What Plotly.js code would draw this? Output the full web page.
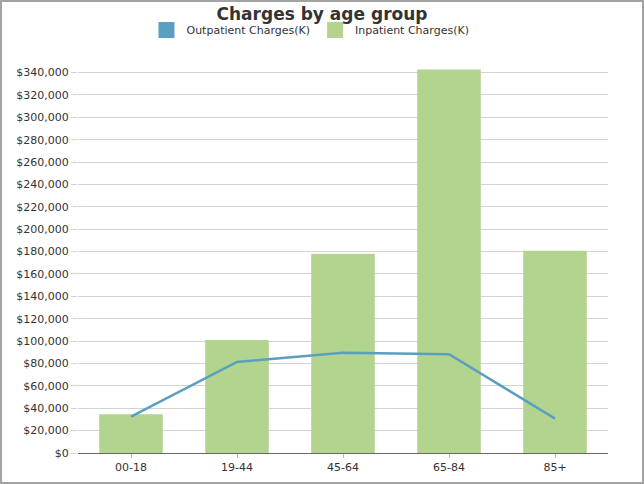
<!DOCTYPE html>
<html>
<head>
<meta charset="utf-8">
<script src="https://cdn.plot.ly/plotly-3.0.1.min.js"></script>
<style>
html,body{margin:0;padding:0;background:#fff;}
#frame{width:640px;height:480px;border:2px solid #a3a3a3;}
#chart{width:640px;height:480px;}
</style>
</head>
<body>
<div id="frame"><div id="chart"></div></div>
<script>
const categories = ["00-18", "19-44", "45-64", "65-84", "85+"];
const inpatient = [34600, 101000, 178000, 342700, 180800];
const outpatient = [32500, 81400, 89600, 88300, 30700];
const tickValues = [0,20000,40000,60000,80000,100000,120000,140000,160000,180000,200000,220000,240000,260000,280000,300000,320000,340000];
const tickLabels = tickValues.map(v => "$" + v.toLocaleString("en-US"));

const blue = "#5b9fc0";
const green = "#b2d48f";

const traces = [
  {type:"bar", x:categories, y:inpatient, name:"Inpatient Charges(K)",
   marker:{color:green}, showlegend:false},
  {type:"scatter", mode:"lines", x:categories, y:outpatient, name:"Outpatient Charges(K)",
   line:{color:blue, width:2.5}, showlegend:false},
  // legend-only entries (square swatches as in the reference)
  {type:"scatter", mode:"markers", x:categories, y:categories.map(()=>null), name:"Outpatient Charges(K)",
   marker:{color:blue, symbol:"square", size:16}, showlegend:true, hoverinfo:"skip"},
  {type:"scatter", mode:"markers", x:categories, y:categories.map(()=>null), name:"Inpatient Charges(K)",
   marker:{color:green, symbol:"square", size:16}, showlegend:true, hoverinfo:"skip"}
];

const layout = {
  width:640, height:480,
  margin:{l:76, r:34, t:65, b:29},
  paper_bgcolor:"#fff", plot_bgcolor:"#fff",
  font:{family:"DejaVu Sans, Verdana, sans-serif", size:11, color:"#333"},
  title:{text:"<b>Charges by age group</b>", x:0.5, xanchor:"center", yref:"container", y:0.988, yanchor:"top",
         font:{family:"DejaVu Sans, Verdana, sans-serif", size:17, color:"#333"}},
  barmode:"overlay",
  bargap:0.4,
  legend:{orientation:"h", xref:"container", x:0.482, xanchor:"center", yref:"container", y:0.972, yanchor:"top",
          font:{size:11, color:"#333"}, traceorder:"normal", itemsizing:"trace"},
  xaxis:{type:"category", showgrid:false, showline:true, linecolor:"#666", linewidth:1,
         ticks:"outside", ticklen:4, tickcolor:"#bbb", tickfont:{size:11, color:"#333"}},
  yaxis:{range:[0,345000], tickvals:tickValues, ticktext:tickLabels, showline:false,
         gridcolor:"#d3d3d3", gridwidth:1, zeroline:false, ticks:"outside", ticklen:6,
         tickcolor:"#d3d3d3", tickfont:{size:11, color:"#333"}}
};

Plotly.newPlot("chart", traces, layout, {displayModeBar:false, staticPlot:true});
</script>
</body>
</html>
